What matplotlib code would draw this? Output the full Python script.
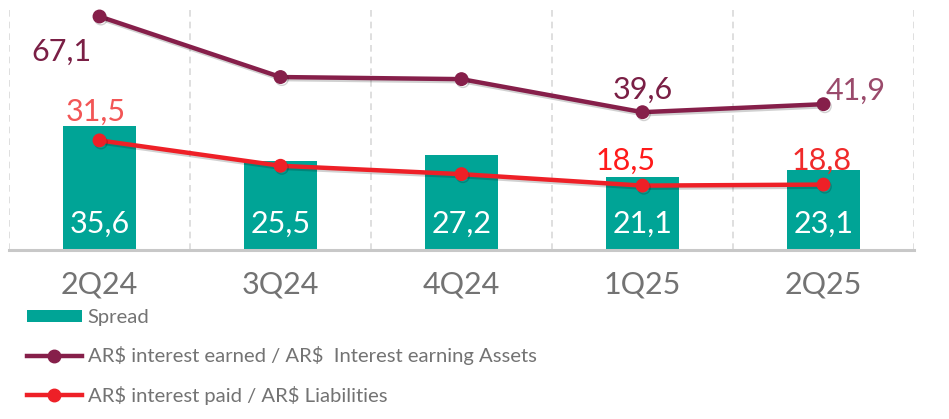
import matplotlib
matplotlib.use("Agg")
import matplotlib.pyplot as plt
import matplotlib.patheffects as pe
from matplotlib.lines import Line2D
from matplotlib.patches import Patch

plt.rcParams['font.family'] = ['Lato', 'DejaVu Sans']
plt.rcParams['text.parse_math'] = False

categories = ["2Q24", "3Q24", "4Q24", "1Q25", "2Q25"]
spread = [35.6, 25.5, 27.2, 21.1, 23.1]
earned = [67.1, 49.7, 49.1, 39.6, 41.9]
paid = [31.5, 24.2, 21.8, 18.5, 18.8]
earned_labels = {0: "67,1", 3: "39,6", 4: "41,9"}
paid_labels = {0: "31,5", 3: "18,5", 4: "18,8"}
spread_labels = ["35,6", "25,5", "27,2", "21,1", "23,1"]
legend_labels = ["Spread", "AR$ interest earned / AR$  Interest earning Assets",
                 "AR$ interest paid / AR$ Liabilities"]

teal = "#00a496"
maroon = "#861f4a"
red = "#ee2027"
gray = "#737373"

W, H = 949, 419
fig = plt.figure(figsize=(W / 100, H / 100), dpi=100)
ax = fig.add_axes([9 / W, 1 - 250 / H, (914 - 9) / W, (250 - 5) / H])

x = list(range(len(categories)))
ax.bar(x, spread, width=0.4, color=teal, zorder=2)

shadow = [pe.SimpleLineShadow(offset=(1, -1.5), shadow_color="#000000", alpha=0.18), pe.Normal()]
ax.plot(x, earned, color=maroon, lw=3.2, marker='o', ms=9, zorder=4, path_effects=shadow)
ax.plot(x, paid, color=red, lw=3.2, marker='o', ms=9, zorder=4, path_effects=shadow)

ax.set_xlim(-0.5, 4.5)
ax.set_ylim(0, 70.4)

# vertical dashed gridlines at category boundaries
for b in [i - 0.5 for i in range(len(categories) + 1)]:
    ax.axvline(b, color="#d9d9d9", lw=1.2, ls=(0, (4, 3)), zorder=1)

for s in ["top", "left", "right"]:
    ax.spines[s].set_visible(False)
ax.spines["bottom"].set_color("#c8c8c8")
ax.spines["bottom"].set_linewidth(2.2)
ax.set_yticks([])
ax.set_xticks(x)
ax.set_xticklabels(categories, fontsize=22, color=gray)
ax.tick_params(axis='x', length=0, pad=15)

k = 0.72  # px -> pt
fs = 22
# spread labels inside bars
for i, lab in enumerate(spread_labels):
    ax.annotate(lab, (x[i], 0), xytext=(0, 17 * k), textcoords='offset points',
                ha='center', va='baseline', color='white', fontsize=fs, zorder=5)

earned_off = {0: (-38, -44), 3: (0, 13), 4: (32, 4)}
earned_col = {0: "#7a1f45", 3: "#7a1f45", 4: "#9a4a6b"}
for i, lab in earned_labels.items():
    dx, dy = earned_off[i]
    ax.annotate(lab, (x[i], earned[i]), xytext=(dx * k, dy * k), textcoords='offset points',
                ha='center', va='baseline', color=earned_col[i], fontsize=fs, zorder=5)

paid_off = {0: (-4, 20), 3: (-17, 16), 4: (-2, 15)}
paid_col = {0: "#f25656", 3: "#ff1a1a", 4: "#f02a2a"}
for i, lab in paid_labels.items():
    dx, dy = paid_off[i]
    ax.annotate(lab, (x[i], paid[i]), xytext=(dx * k, dy * k), textcoords='offset points',
                ha='center', va='baseline', color=paid_col[i], fontsize=fs, zorder=5)

handles = [
    Patch(facecolor=teal, edgecolor='none'),
    Line2D([], [], color=maroon, lw=3.2, marker='o', ms=9),
    Line2D([], [], color=red, lw=3.2, marker='o', ms=9),
]
leg = fig.legend(handles, legend_labels, loc='upper left',
                 bbox_to_anchor=(27 / W, 1 - 309 / H), frameon=False,
                 prop={'size': 14.6}, labelcolor=gray,
                 borderpad=0, borderaxespad=0,
                 handlelength=2.7, handleheight=0.5, handletextpad=0.3,
                 labelspacing=1.0)

fig.savefig("out.png", dpi=100)
